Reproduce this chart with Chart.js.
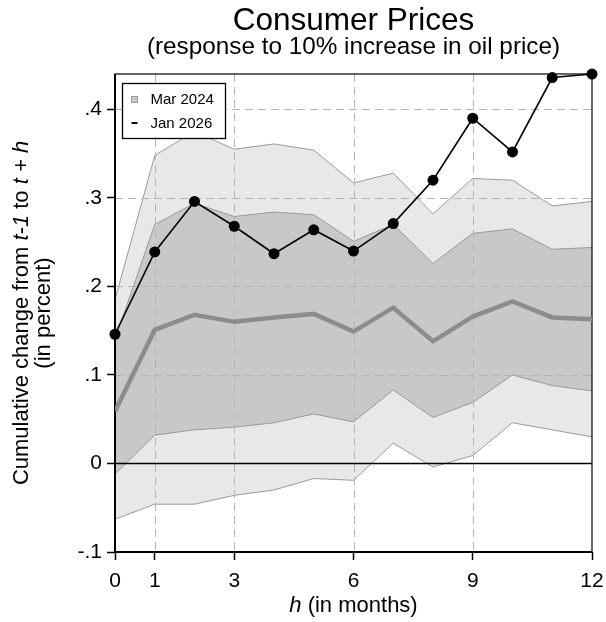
<!DOCTYPE html>
<html>
<head>
<meta charset="utf-8">
<script src="https://cdn.jsdelivr.net/npm/chart.js@4.4.1/dist/chart.umd.min.js"></script>
<style>
  html, body { margin: 0; padding: 0; background: #fff; }
  #wrap { width: 606px; height: 622px; }
</style>
</head>
<body>
<div id="wrap"><canvas id="myChart"></canvas></div>
<script>
/* data */
const horizons = [0, 1, 2, 3, 4, 5, 6, 7, 8, 9, 10, 11, 12];
const xTickValues = [0, 1, 3, 6, 9, 12];
const yTickValues = [-0.1, 0, 0.1, 0.2, 0.3, 0.4];

const jan2026 = [0.146, 0.239, 0.296, 0.268, 0.237, 0.264, 0.240, 0.271, 0.320, 0.390, 0.352, 0.436, 0.440];
const mar2024 = [0.059, 0.151, 0.168, 0.160, 0.165, 0.169, 0.149, 0.176, 0.138, 0.166, 0.183, 0.165, 0.163];
const innerUpper = [0.140, 0.270, 0.294, 0.279, 0.284, 0.281, 0.251, 0.270, 0.226, 0.260, 0.265, 0.242, 0.244];
const innerLower = [-0.012, 0.032, 0.038, 0.041, 0.046, 0.056, 0.047, 0.083, 0.052, 0.069, 0.100, 0.088, 0.082];
const outerUpper = [0.185, 0.348, 0.375, 0.355, 0.361, 0.354, 0.317, 0.328, 0.282, 0.322, 0.320, 0.291, 0.296];
const outerLower = [-0.063, -0.046, -0.046, -0.036, -0.030, -0.017, -0.019, 0.023, -0.004, 0.009, 0.046, 0.038, 0.030];

const FONT = '"Liberation Sans", Arial, Helvetica, sans-serif';

// draw a line of text made of normal / italic pieces, centred on (0,0)
function drawMixed(ctx, parts, size) {
    let total = 0;
    parts.forEach(p => {
        ctx.font = (p[1] ? 'italic ' : '') + size + 'px ' + FONT;
        total += ctx.measureText(p[0]).width;
    });
    let x = -total / 2;
    parts.forEach(p => {
        ctx.font = (p[1] ? 'italic ' : '') + size + 'px ' + FONT;
        ctx.fillText(p[0], x, 0);
        x += ctx.measureText(p[0]).width;
    });
}

/* grid, zero line and frame go under the median and Jan 2026 lines */
const gridPlugin = {
    id: 'gridPlugin',
    beforeDatasetDraw(chart, args) {
        if (args.index !== 1) return;
        const ctx = chart.ctx;
        const a = chart.chartArea;
        const xs = chart.scales.x, ys = chart.scales.y;
        ctx.save();
        ctx.strokeStyle = '#b4b4b4';
        ctx.lineWidth = 1;
        ctx.setLineDash([8, 5]);
        [0.1, 0.2, 0.3, 0.4].forEach(v => {
            const y = Math.round(ys.getPixelForValue(v)) + 0.5;
            ctx.beginPath(); ctx.moveTo(a.left, y); ctx.lineTo(a.right, y); ctx.stroke();
        });
        [1, 3, 6, 9].forEach(v => {
            const x = Math.round(xs.getPixelForValue(v)) + 0.5;
            ctx.beginPath(); ctx.moveTo(x, a.top); ctx.lineTo(x, a.bottom); ctx.stroke();
        });
        ctx.setLineDash([]);
        // zero line
        ctx.strokeStyle = '#000';
        ctx.lineWidth = 1.4;
        const y0 = ys.getPixelForValue(0);
        ctx.beginPath(); ctx.moveTo(a.left, y0); ctx.lineTo(a.right, y0); ctx.stroke();
        // frame
        ctx.lineWidth = 1.2;
        ctx.strokeRect(a.left, a.top, a.right - a.left, a.bottom - a.top);
        ctx.lineWidth = 2;
        ctx.beginPath();
        ctx.moveTo(a.left, a.top); ctx.lineTo(a.left, a.bottom); ctx.lineTo(a.right, a.bottom);
        ctx.stroke();
        ctx.restore();
    },
    afterDraw(chart) {
        const ctx = chart.ctx;
        const a = chart.chartArea;
        const cx = (a.left + a.right) / 2;
        ctx.save();
        ctx.fillStyle = '#000';
        ctx.textBaseline = 'middle';
        ctx.textAlign = 'left';

        // titles
        ctx.translate(cx, 21);
        drawMixed(ctx, [['Consumer Prices', false]], 31.5);
        ctx.translate(0, 26);
        drawMixed(ctx, [['(response to 10% increase in oil price)', false]], 24.3);
        ctx.setTransform(1, 0, 0, 1, 0, 0);

        // x axis title
        ctx.translate(cx, 606);
        drawMixed(ctx, [['h', true], [' (in months)', false]], 22);
        ctx.setTransform(1, 0, 0, 1, 0, 0);

        // y axis title (two lines)
        const cy = (a.top + a.bottom) / 2;
        ctx.translate(22, cy);
        ctx.rotate(-Math.PI / 2);
        drawMixed(ctx, [['Cumulative change from ', false], ['t-1', true], [' to ', false], ['t + h', true]], 22);
        ctx.setTransform(1, 0, 0, 1, 0, 0);
        ctx.translate(44, cy);
        ctx.rotate(-Math.PI / 2);
        drawMixed(ctx, [['(in percent)', false]], 22);
        ctx.setTransform(1, 0, 0, 1, 0, 0);

        // legend
        const lx = a.left + 7.5, ly = a.top + 9.5;
        ctx.fillStyle = '#fff';
        ctx.fillRect(lx, ly, 103, 55);
        ctx.strokeStyle = '#000';
        ctx.lineWidth = 1.3;
        ctx.strokeRect(lx, ly, 103, 55);
        ctx.fillStyle = '#c8c8c8';
        ctx.fillRect(lx + 9, ly + 13, 6, 6);
        ctx.strokeStyle = '#999';
        ctx.lineWidth = 1;
        ctx.strokeRect(lx + 9, ly + 13, 6, 6);
        ctx.strokeStyle = '#000';
        ctx.lineWidth = 2;
        ctx.beginPath(); ctx.moveTo(lx + 9, ly + 39.5); ctx.lineTo(lx + 15, ly + 39.5); ctx.stroke();
        ctx.fillStyle = '#000';
        ctx.font = '15px ' + FONT;
        ctx.fillText(chart.data.datasets[1].label, lx + 28, ly + 16);
        ctx.fillText(chart.data.datasets[0].label, lx + 28, ly + 40);
        ctx.restore();
    }
};

function fmtY(v) {
    if (Math.abs(v) < 1e-9) return '0';
    const s = Math.abs(v).toFixed(1).replace(/^0/, '');
    return (v < 0 ? '-' : '') + s;
}

const bandLine = '#9a9a9a';

const chart = new Chart(document.getElementById('myChart'), {
    type: 'line',
    data: {
        labels: horizons,
        datasets: [
            { label: 'Jan 2026', data: jan2026, order: 0, borderColor: '#000', borderWidth: 1.6,
              pointRadius: 5.5, pointBackgroundColor: '#000', pointBorderWidth: 0, fill: false, clip: false },
            { label: 'Mar 2024', data: mar2024, order: 1, borderColor: '#8c8c8c', borderWidth: 4.5,
              pointRadius: 0, fill: false, borderJoinStyle: 'miter' },
            { label: 'inner upper', data: innerUpper, order: 3, borderColor: bandLine, borderWidth: 1,
              pointRadius: 0, backgroundColor: '#c8c8c8', fill: '+1' },
            { label: 'inner lower', data: innerLower, order: 2, borderColor: bandLine, borderWidth: 1,
              pointRadius: 0, fill: false },
            { label: 'outer upper', data: outerUpper, order: 5, borderColor: bandLine, borderWidth: 1,
              pointRadius: 0, backgroundColor: '#e8e8e8', fill: '+1' },
            { label: 'outer lower', data: outerLower, order: 4, borderColor: bandLine, borderWidth: 1,
              pointRadius: 0, fill: false }
        ]
    },
    options: {
        responsive: true,
        maintainAspectRatio: false,
        animation: false,
        layout: { padding: { top: 74, right: 14, left: 0, bottom: 0 } },
        elements: { line: { tension: 0 } },
        plugins: {
            legend: { display: false },
            tooltip: { enabled: false }
        },
        scales: {
            x: {
                type: 'linear',
                min: 0,
                max: 12,
                afterBuildTicks: (scale) => { scale.ticks = xTickValues.map(v => ({ value: v })); },
                afterFit: (scale) => {
                    scale.height = 70;
                    // keep the "12" label from pushing the plot area in
                    scale.paddingLeft = 0;
                    scale.paddingRight = 0;
                },
                grid: { display: true, drawOnChartArea: false, drawTicks: true, tickLength: 8,
                        tickColor: '#000', tickWidth: 1.5 },
                border: { display: false },
                ticks: { color: '#000', font: { family: FONT, size: 21 }, padding: 9, maxRotation: 0,
                         autoSkip: false }
            },
            y: {
                min: -0.1,
                max: 0.44,
                afterBuildTicks: (scale) => { scale.ticks = yTickValues.map(v => ({ value: v })); },
                afterFit: (scale) => { scale.width = 115; },
                grid: { display: true, drawOnChartArea: false, drawTicks: true, tickLength: 8,
                        tickColor: '#000', tickWidth: 1.5 },
                border: { display: false },
                ticks: { color: '#000', font: { family: FONT, size: 21 }, padding: 5,
                         callback: (v) => fmtY(v) }
            }
        }
    },
    plugins: [gridPlugin]
});
</script>
</body>
</html>
